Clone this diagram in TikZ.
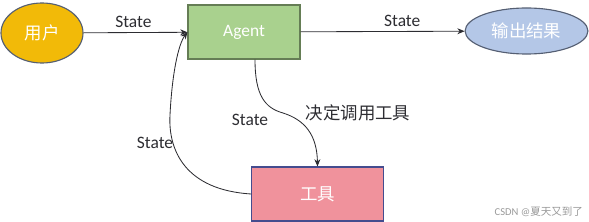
\documentclass[tikz,border=0pt]{standalone}
\usepackage{fontspec}
\setmainfont{Carlito}
\newfontfamily\cjk{Noto Sans CJK SC}
\usetikzlibrary{arrows.meta,shapes.geometric}
\definecolor{gold}{RGB}{242,186,8}
\definecolor{leaf}{RGB}{169,209,142}
\definecolor{sky}{RGB}{180,199,231}
\definecolor{rose}{RGB}{240,146,156}
\definecolor{slate}{RGB}{85,95,115}
\definecolor{ink}{RGB}{45,45,50}
\tikzset{
  >={Stealth[length=1.8mm,width=1.5mm]},
  big/.style={font=\fontsize{12.4}{14}\selectfont},
  oval/.style={ellipse,draw=#1,thick,text=white,inner sep=0pt,big},
  block/.style={rectangle,draw=#1,thick,text=white,inner sep=0pt,big},
  flow/.style={->,draw=ink,semithick},
  tag/.style={text=ink,big},
}
\begin{document}
\begin{tikzpicture}[x=0.025cm,y=-0.025cm]
    \useasboundingbox (0,0) rectangle (589,222);
    % nodes
    \node[oval=slate,fill=gold,minimum width=2.05cm,minimum height=1.5cm] (user) at (42,33) {\cjk 用户};
    \node[block=leaf!60!black,fill=leaf,minimum width=2.8cm,minimum height=1.35cm] (agent) at (244,32) {Agent};
    \node[oval=slate,fill=sky,minimum width=3.07cm,minimum height=1.15cm] (out) at (526.5,31) {\cjk 输出结果};
    \node[block=slate!80!blue,fill=rose,minimum width=3.28cm,minimum height=1.35cm] (tool) at (317.5,194) {\cjk 工具};
    % connectors
    \draw[flow] (user) -- node[tag,above,pos=0.48] (s1) {State} (agent);
    \draw[flow] (agent) -- node[tag,above,pos=0.62] (s2) {State} (out);
    \draw[flow] ([xshift=0.275cm]agent.south) .. controls +(0,36) and (265,108) .. (283,113)
      .. controls (305,120) and (317,135) .. (tool.north);
    \draw[flow] (tool.west) .. controls (185,190) and (168,150) .. (170,115)
      .. controls (172,75) and (178,45) .. (agent.west);
    % labels
    \node[tag] (s3) at (155,143) {State};
    \node[tag] (s4) at (250,120) {State};
    \node[tag] (call) at (358,113) {\cjk 决定调用工具};
    \node[text=black!40,font=\fontsize{7.5}{8}\selectfont,anchor=east] (mark) at (588,212) {CSDN @{\cjk 夏天又到了}};
\end{tikzpicture}
\end{document}
